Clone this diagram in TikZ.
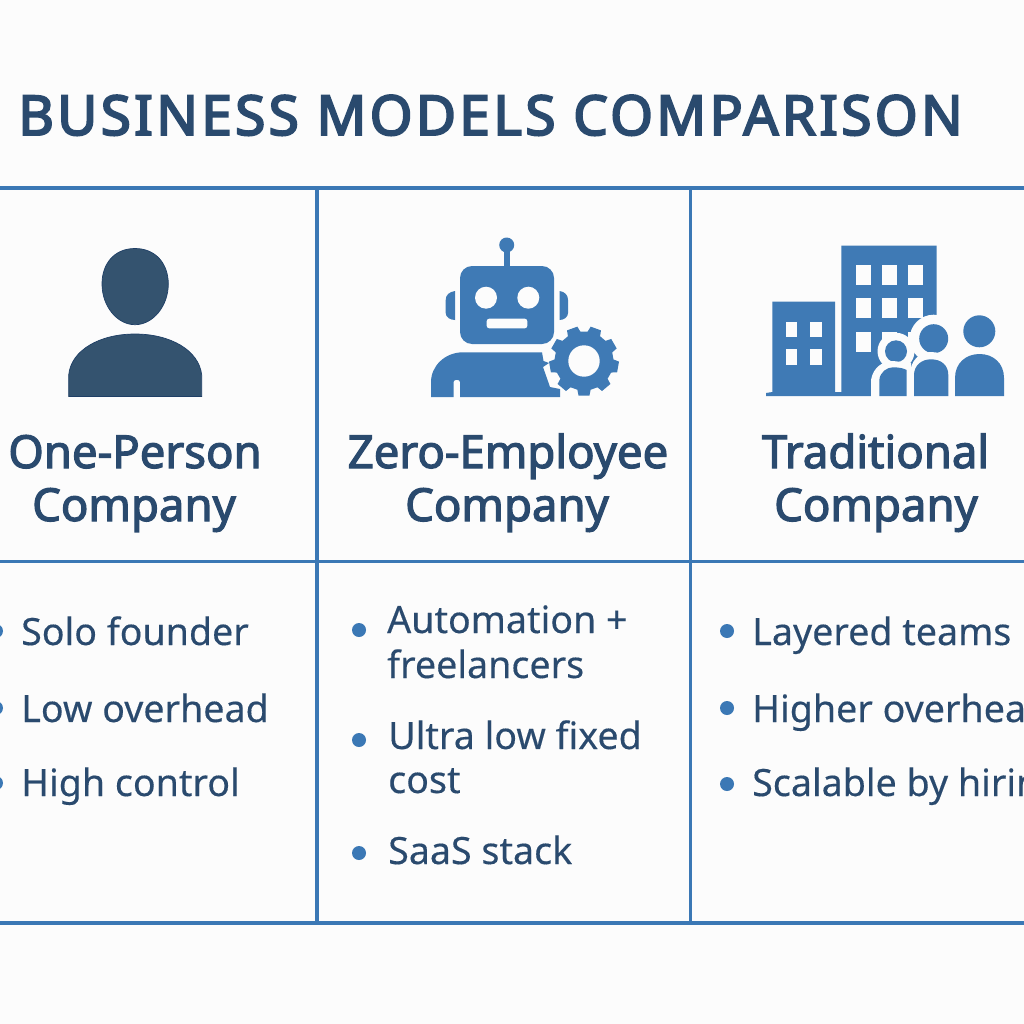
\documentclass[tikz,border=0pt]{standalone}
\usepackage{fontspec}
\setmainfont{Noto Sans}
\newfontfamily\titlefont[FakeBold=3.6,LetterSpace=6]{Noto Sans}
\newfontfamily\headfont[FakeBold=2.6]{Noto Sans}
\newfontfamily\bodyfont[FakeBold=0.3]{Noto Sans}
\definecolor{bgc}{HTML}{FCFCFC}
\definecolor{linec}{HTML}{3B78B5}
\definecolor{titlec}{HTML}{2A4A6E}
\definecolor{personc}{HTML}{34536F}
\definecolor{personedge}{HTML}{1F3F66}
\definecolor{iconc}{HTML}{3F7AB5}
\tikzset{
  gridline/.style={linec,line width=3.6pt},
  titletext/.style={anchor=base west,inner sep=0pt,text=titlec,font=\titlefont\fontsize{55}{55}\selectfont},
  headtext/.style={anchor=base,inner sep=0pt,text=titlec,font=\headfont\fontsize{45.5}{45.5}\selectfont},
  bodytext/.style={anchor=base west,inner sep=0pt,text=titlec,font=\bodyfont\fontsize{37.6}{37.6}\selectfont},
  bulletdot/.style={circle,fill=linec,draw=none,minimum size=14pt,inner sep=0pt},
  holefill/.style={fill=bgc,draw=none},
}
\begin{document}
\begin{tikzpicture}[x=1pt,y=-1pt]
\useasboundingbox (0,0) rectangle (1024,1024);
\clip (0,0) rectangle (1024,1024);
\fill[bgc] (0,0) rectangle (1024,1024);

% grid
\coordinate (L1) at (0,188);\coordinate (R1) at (1024,188);
\coordinate (L2) at (0,561.5);\coordinate (R2) at (1024,561.5);
\coordinate (L3) at (0,923);\coordinate (R3) at (1024,923);
\coordinate (V1t) at (317,188);\coordinate (V1b) at (317,923);
\coordinate (V2t) at (690.5,188);\coordinate (V2b) at (690.5,923);
\draw[gridline] (L1)--(R1);
\draw[gridline] (L2)--(R2);
\draw[gridline] (L3)--(R3);
\draw[gridline] (V1t)--(V1b);
\draw[gridline] (V2t)--(V2b);

\node[titletext] (title) at (18,135) {BUSINESS MODELS COMPARISON};

% person
\draw[fill=personc,draw=personedge,line width=0.7pt]
  (135,248.5) .. controls (156,248.5) and (168.3,264) .. (168.3,284)
  .. controls (168.3,306) and (153,324.7) .. (135,324.7)
  .. controls (117,324.7) and (102,306) .. (102,284)
  .. controls (102,264) and (114,248.5) .. (135,248.5) -- cycle;
\draw[fill=personc,draw=personedge,line width=0.7pt]
  (68.7,396.5) -- (68.7,375)
  .. controls (71,350) and (100,334) .. (135,334)
  .. controls (170,334) and (199,350) .. (201.7,375)
  -- (201.7,396.5) -- cycle;

% robot
\fill[iconc] (504.2,250) rectangle (510,268);
\fill[iconc] (506.7,245) circle (7.5);
\fill[iconc,rounded corners=12pt] (460,266) rectangle (554,344);
\fill[holefill] (486,297.7) circle (11);
\fill[holefill] (528.3,297.7) circle (11);
\fill[holefill,rounded corners=2.5pt] (486.7,318.7) rectangle (527.3,328.3);
\fill[iconc] (455,291) .. controls (449,292) and (445.7,295) .. (445.7,300) -- (445.7,313)
  .. controls (445.7,317) and (450,320) .. (455,320) -- cycle;
\fill[iconc] (559.7,291) .. controls (565,292) and (568,295) .. (568,300) -- (568,313)
  .. controls (568,317) and (564,320) .. (559.7,320) -- cycle;
\fill[iconc]
  (431,397) -- (431,382) .. controls (431,366) and (445,352.3) .. (463,352.3)
  -- (542,352.3) -- (543.5,361) -- (549,363) -- (543,367) -- (550,387) -- (560,389) -- (560,397)
  -- (460,397) -- (460,382) .. controls (460,379) and (453.5,379) .. (453.5,382) -- (453.5,397) -- cycle;
\begin{scope}[shift={(584,361)}]
\fill[iconc,line join=round]
  (77:29.5)
  \foreach \i in {0,...,8} {
    -- ({\i*40+90-13}:29.5)
    -- ({\i*40+90-9}:35) -- ({\i*40+90+9}:35) -- ({\i*40+90+13}:29.5)
  } -- cycle;
\fill[holefill] (0,0) circle (15.7);
\end{scope}

% buildings
\fill[iconc] (766,396) -- (766,393) -- (772.3,392) -- (772.3,301.7) -- (835,301.7) -- (835,392) -- (841.3,392) -- (841.3,245.7) -- (936.7,245.7) -- (936.7,396) -- cycle;
\foreach \wx in {785.7,810}
  \foreach \wy in {321.7,349}
    \fill[holefill] (\wx,\wy) rectangle ++(11.7,15.5);
\foreach \wx in {855.7,881.7,907.7}
  \foreach \wy in {265,298.3,331.7}
    \fill[holefill] (\wx,\wy) rectangle ++(15,20);
% people
\fill[iconc] (979.3,331.3) circle (16);
\fill[iconc] (955,396) -- (955,378) .. controls (955,363) and (966,354) .. (979.5,354) .. controls (993,354) and (1004,363) .. (1004,378) -- (1004,396) -- cycle;
\fill[holefill] (933.7,338.7) circle (24);
\fill[iconc] (933.7,338.7) circle (14.5);
\fill[holefill] (910,397) -- (910,375) .. controls (910,360) and (920,352) .. (931,352) .. controls (945,352) and (952,362) .. (952,375) -- (952,397) -- cycle;
\fill[iconc] (914,396) -- (914,375) .. controls (914,365) and (922,359.3) .. (931,359.3) .. controls (941,359.3) and (948.3,365) .. (948.3,375) -- (948.3,396) -- cycle;
\fill[holefill] (896,351.3) circle (18.5);
\fill[iconc] (896,351.3) circle (11);
\fill[holefill] (871,397) -- (871,380) .. controls (873,368) and (882,361) .. (893,361) -- (911,363) -- (911,397) -- cycle;
\fill[iconc] (879.3,396) -- (879.3,380) .. controls (880,372) and (887,367.3) .. (893,367.3) .. controls (898,367.3) and (903,368) .. (906.7,370) -- (906.7,396) -- cycle;

% headings
\node[headtext] (h1a) at (135,468) {One-Person};
\node[headtext] (h1b) at (134,521) {Company};
\node[headtext] (h2a) at (508,468) {Zero-Employee};
\node[headtext] (h2b) at (507,521) {Company};
\node[headtext] (h3a) at (875.5,468) {Traditional};
\node[headtext] (h3b) at (876,521) {Company};

% left list
\node[bulletdot] (b1a) at (-4,631) {};
\node[bulletdot] (b1b) at (-4,708) {};
\node[bulletdot] (b1c) at (-4,783) {};
\node[bodytext] (t1a) at (21,645) {Solo founder};
\node[bodytext] (t1b) at (21,722) {Low overhead};
\node[bodytext] (t1c) at (21,796) {High control};
% middle list
\node[bulletdot] (b2a) at (359,630) {};
\node[bulletdot] (b2b) at (359,740) {};
\node[bulletdot] (b2c) at (359,853) {};
\node[bodytext] (t2a) at (387,633) {Automation +};
\node[bodytext] (t2b) at (387,678) {freelancers};
\node[bodytext] (t2c) at (388,749) {Ultra low fixed};
\node[bodytext] (t2d) at (388,793) {cost};
\node[bodytext] (t2e) at (388,864) {SaaS stack};
% right list
\node[bulletdot] (b3a) at (727,631) {};
\node[bulletdot] (b3b) at (727,708) {};
\node[bulletdot] (b3c) at (727,784) {};
\node[bodytext] (t3a) at (752,645) {Layered teams};
\node[bodytext] (t3b) at (752,722) {Higher overhead};
\node[bodytext] (t3c) at (752,796) {Scalable by hiring};
\end{tikzpicture}
\end{document}
